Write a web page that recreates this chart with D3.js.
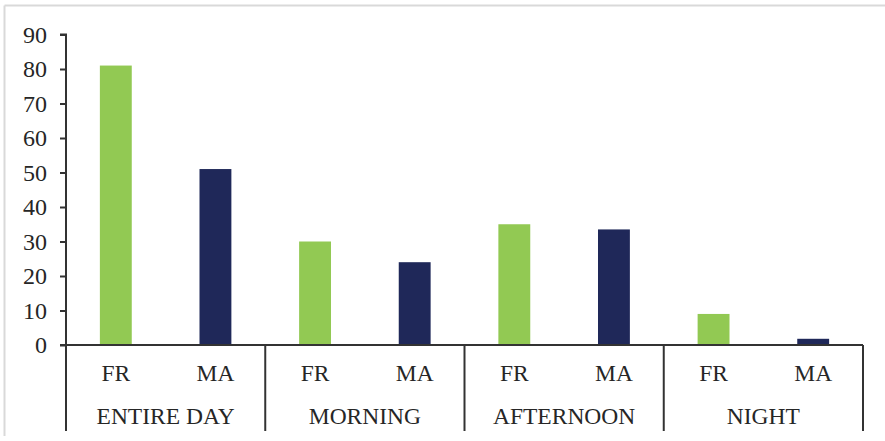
<!DOCTYPE html>
<html>
<head>
<meta charset="utf-8">
<script src="https://cdn.jsdelivr.net/npm/d3@7"></script>
<style>
  html, body { margin: 0; padding: 0; background: #fff; }
  svg text { font-family: "Liberation Serif", "Times New Roman", serif; fill: #262626; }
</style>
</head>
<body>
<svg id="chart" width="885" height="441"></svg>
<script>
// data
const groups = ["ENTIRE DAY", "MORNING", "AFTERNOON", "NIGHT"];
const subgroups = ["FR", "MA"];
const frValues = [81, 30, 35, 9];
const maValues = [51, 24, 33.5, 1.8];
const yTicks = [0, 10, 20, 30, 40, 50, 60, 70, 80, 90];

const colors = {FR: "#92C953", MA: "#1F2859"};

const rows = [];
groups.forEach((g, i) => {
    rows.push({group: g, sub: "FR", value: frValues[i]});
    rows.push({group: g, sub: "MA", value: maValues[i]});
});

const svg = d3.select("#chart");
const margin = {left: 66, right: 22, top: 34.5, bottom: 96};
const W = +svg.attr("width"), H = +svg.attr("height");

// light frame round the chart area
svg.append("line").attr("x1", 4.5).attr("x2", 885).attr("y1", 5.5).attr("y2", 5.5)
    .attr("stroke", "#d9d9d9").attr("stroke-width", 2);
svg.append("line").attr("x1", 4.5).attr("x2", 4.5).attr("y1", 5.5).attr("y2", 436)
    .attr("stroke", "#d9d9d9").attr("stroke-width", 2);

const x0 = d3.scaleBand().domain(groups).range([margin.left, W - margin.right]);
const x1 = d3.scaleBand().domain(subgroups).range([0, x0.bandwidth()])
    .paddingInner(0.68).paddingOuter(0.34);
const y = d3.scaleLinear().domain([0, 90]).range([H - margin.bottom, margin.top]);

// bars
svg.append("g").selectAll("rect")
    .data(rows)
    .join("rect")
    .attr("x", d => x0(d.group) + x1(d.sub))
    .attr("y", d => y(d.value))
    .attr("width", x1.bandwidth())
    .attr("height", d => y(0) - y(d.value))
    .attr("fill", d => colors[d.sub]);

// y axis
const yAxis = svg.append("g")
    .attr("transform", `translate(${margin.left},0)`)
    .call(d3.axisLeft(y).tickValues(yTicks).tickSize(6).tickPadding(13));
yAxis.selectAll("path, line").attr("stroke", "#333").attr("stroke-width", 2);
yAxis.select(".domain").attr("d", `M-6,${y(90)}H0V${y(0)}`);
yAxis.selectAll("text").attr("font-size", 24).attr("font-family", "Liberation Serif").attr("fill", "#262626");

// x axis: baseline plus group separators
const axisColor = "#333";
const y0 = y(0);
const sepBottom = 431;
svg.append("line").attr("x1", margin.left - 6).attr("x2", W - margin.right)
    .attr("y1", y0).attr("y2", y0).attr("stroke", axisColor).attr("stroke-width", 2);

const seps = groups.map(g => x0(g)).concat([x0.range()[1]]);
svg.append("g").selectAll("line")
    .data(seps)
    .join("line")
    .attr("x1", d => d).attr("x2", d => d)
    .attr("y1", y0).attr("y2", sepBottom)
    .attr("stroke", axisColor).attr("stroke-width", 2);

// sub labels
svg.append("g").selectAll("text")
    .data(rows)
    .join("text")
    .attr("x", d => x0(d.group) + x1(d.sub) + x1.bandwidth() / 2)
    .attr("y", 381)
    .attr("text-anchor", "middle")
    .attr("font-size", 23.5)
    .text(d => d.sub);

// group labels
svg.append("g").selectAll("text")
    .data(groups)
    .join("text")
    .attr("x", d => x0(d) + x0.bandwidth() / 2)
    .attr("y", 424)
    .attr("text-anchor", "middle")
    .attr("font-size", 23.5)
    .text(d => d);
</script>
</body>
</html>
